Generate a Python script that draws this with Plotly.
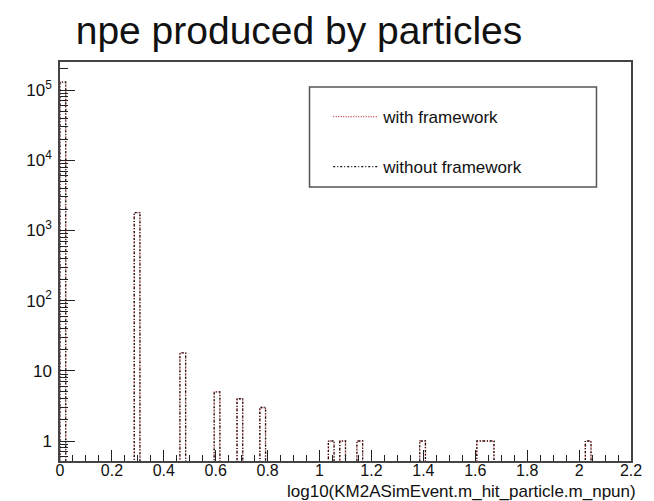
import numpy as np
import plotly.graph_objects as go

# Histogram definition (ROOT-style fixed binning on log10(npe))
n_bins = 100
x_min, x_max = 0.0, 2.2

# npe values seen per particle and how many hits produced each
npe_values = [1, 2, 3, 4, 5, 6, 11, 12, 14, 25, 41, 43, 46, 110]
hits_with_framework = [130000, 1800, 18, 5, 4, 3, 1, 1, 1, 1, 1, 1, 1, 1]
hits_without_framework = [130000, 1800, 18, 5, 4, 3, 1, 1, 1, 1, 1, 1, 1, 1]

x_tick_vals = [0, 0.2, 0.4, 0.6, 0.8, 1.0, 1.2, 1.4, 1.6, 1.8, 2.0, 2.2]
x_tick_text = ["0", "0.2", "0.4", "0.6", "0.8", "1", "1.2", "1.4", "1.6", "1.8", "2", "2.2"]
y_tick_vals = [1, 10, 100, 1000, 10000, 100000]
y_tick_text = ["1", "10", "10<sup>2</sup>", "10<sup>3</sup>", "10<sup>4</sup>", "10<sup>5</sup>"]

FONT = "Liberation Sans, Arial, sans-serif"

# plot-area geometry in pixels
L, R, T, B = 60, 15, 62, 40
PW, PH = 654 - L - R, 501 - T - B


def px_x(px):
    return (px - L) / PW


def px_y(py):
    return (501 - B - py) / PH


def step_outline(values, weights):
    """Fill the histogram and return the outline as a step path."""
    edges = np.linspace(x_min, x_max, n_bins + 1)
    counts, _ = np.histogram(np.log10(values), bins=edges, weights=weights)
    # empty bins sit on the floor below the visible range (like ROOT's log pad)
    floor = 0.05
    counts = np.where(counts > 0, counts, floor)
    xs = np.repeat(edges, 2)
    ys = np.concatenate([[floor], np.repeat(counts, 2), [floor]])
    return xs, ys


fig = go.Figure()

xs, ys = step_outline(npe_values, hits_with_framework)
fig.add_trace(go.Scatter(
    x=xs, y=ys, mode="lines", name="with framework", legendgroup="a",
    line=dict(color="#c83c3c", width=1.3, dash="1px,1.5px"),
))

xs, ys = step_outline(npe_values, hits_without_framework)
fig.add_trace(go.Scatter(
    x=xs, y=ys, mode="lines", name="without framework", legendgroup="b",
    line=dict(color="#111111", width=1.3, dash="2px,2px,1px,2px"),
))

# legend frame
fig.add_shape(type="rect", xref="paper", yref="paper",
              x0=px_x(313), x1=px_x(604), y0=px_y(187), y1=px_y(87),
              line=dict(color="#555555", width=1.5), fillcolor="rgba(0,0,0,0)")

# x-axis title, right-aligned under the axis end
fig.add_annotation(text="log10(KM2ASimEvent.m_hit_particle.m_npun)",
                   xref="paper", yref="paper", x=px_x(646), y=px_y(491),
                   xanchor="right", yanchor="middle", showarrow=False,
                   font=dict(size=17, color="#111111"))

fig.update_layout(
    width=654, height=501,
    margin=dict(l=L, r=R, t=T, b=B),
    paper_bgcolor="white", plot_bgcolor="white",
    font=dict(family=FONT, color="#111111"),
    title=dict(text="npe produced by particles", x=299 / 654, xanchor="center",
               y=1 - 30 / 501, yanchor="middle", font=dict(size=39, color="#111111")),
    showlegend=True,
    legend=dict(x=px_x(332), y=px_y(99), xanchor="left", yanchor="top",
                bgcolor="rgba(0,0,0,0)", borderwidth=0, font=dict(size=17),
                tracegroupgap=25, itemwidth=45),
    xaxis=dict(range=[x_min, x_max], tickvals=x_tick_vals, ticktext=x_tick_text,
               ticks="inside", ticklen=11, tickcolor="#222222", tickwidth=1,
               showline=True, linecolor="#444444", linewidth=1.5, mirror=True,
               showgrid=False, zeroline=False, tickfont=dict(size=16),
               ticklabelstandoff=-6,
               minor=dict(ticks="inside", ticklen=6, dtick=0.05, tickcolor="#222222",
                          showgrid=False)),
    yaxis=dict(type="log", range=[-0.285, 5.40], tickvals=y_tick_vals, ticktext=y_tick_text,
               ticks="inside", ticklen=15, tickcolor="#222222", tickwidth=1,
               showline=True, linecolor="#444444", linewidth=1.5, mirror=True,
               showgrid=False, zeroline=False, tickfont=dict(size=17),
               ticklabelstandoff=3,
               minor=dict(ticks="inside", ticklen=8, dtick="D1", tickcolor="#222222",
                          showgrid=False)),
)

fig.write_html("out.html")
